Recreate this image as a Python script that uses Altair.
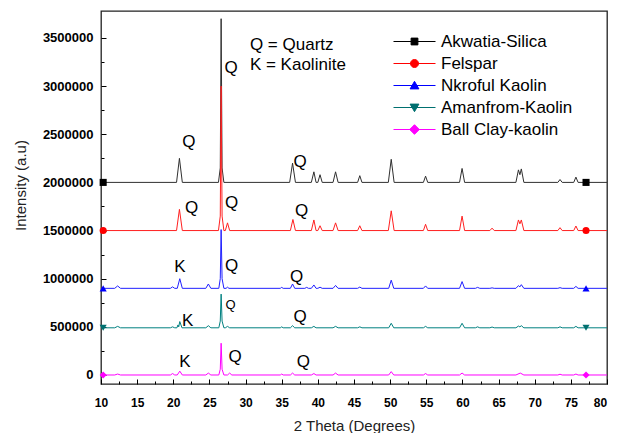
import altair as alt
import pandas as pd

# ---------------- data ----------------
series_names = ["Akwatia-Silica", "Felspar", "Nkroful Kaolin", "Amanfrom-Kaolin", "Ball Clay-kaolin"]
line_colors = ["#303030", "#ff2020", "#2020ff", "#008080", "#ff00ff"]
marker_colors = ["#000000", "#ff0000", "#0000ff", "#007070", "#ff00ff"]
marker_shapes = ["square", "circle", "triangle-up", "triangle-down", "diamond"]
legend_shapes = [
    "M-5.25,0H5.25M-0.85,-0.85H0.85V0.85H-0.85Z",
    "M-5.25,0H5.25M-1,0A1,1 0 1,0 1,0A1,1 0 1,0 -1,0Z",
    "M-5.25,0H5.25M0,-1.05L1.1,0.85H-1.1Z",
    "M-5.25,0H5.25M0,1.05L1.1,-0.85H-1.1Z",
    "M-5.25,0H5.25M0,-1.2L1.2,0L0,1.2L-1.2,0Z",
]
baselines = [2000000, 1500000, 900000, 490000, 0]
marker_x = [10.3, 77.1]

akwatia = [(10, 2000000), (20.45, 2000000), (20.85, 2250000), (21.25, 2000000),
           (26.25, 2000000), (26.5, 2150000), (26.62, 3700000), (26.75, 2150000), (27.0, 2000000),
           (36.1, 2000000), (36.5, 2200000), (36.9, 2000000),
           (39.1, 2000000), (39.45, 2110000), (39.75, 2000000),
           (40.0, 2000000), (40.3, 2080000), (40.6, 2000000),
           (42.1, 2000000), (42.45, 2110000), (42.8, 2000000),
           (45.5, 2000000), (45.8, 2070000), (46.1, 2000000),
           (49.75, 2000000), (50.15, 2240000), (50.55, 2000000),
           (54.6, 2000000), (54.9, 2065000), (55.2, 2000000),
           (59.6, 2000000), (59.95, 2145000), (60.3, 2000000),
           (67.4, 2000000), (67.75, 2130000), (67.95, 2080000), (68.15, 2140000), (68.5, 2000000),
           (73.2, 2000000), (73.5, 2030000), (73.8, 2000000),
           (75.4, 2000000), (75.7, 2055000), (76.0, 2000000), (80, 2000000)]

felspar = [(10, 1500000), (20.45, 1500000), (20.85, 1720000), (21.25, 1500000),
           (26.25, 1500000), (26.5, 1650000), (26.62, 3000000), (26.75, 1650000), (27.0, 1500000),
           (27.2, 1500000), (27.5, 1580000), (27.8, 1500000),
           (36.2, 1500000), (36.55, 1615000), (36.9, 1500000),
           (39.1, 1500000), (39.45, 1610000), (39.75, 1500000),
           (40.0, 1500000), (40.3, 1550000), (40.6, 1500000),
           (42.1, 1500000), (42.45, 1580000), (42.8, 1500000),
           (45.5, 1500000), (45.8, 1550000), (46.1, 1500000),
           (49.75, 1500000), (50.15, 1705000), (50.55, 1500000),
           (54.6, 1500000), (54.9, 1565000), (55.2, 1500000),
           (59.6, 1500000), (59.95, 1650000), (60.3, 1500000),
           (63.8, 1500000), (64.1, 1525000), (64.4, 1500000),
           (67.4, 1500000), (67.75, 1610000), (67.95, 1570000), (68.15, 1610000), (68.5, 1500000),
           (73.2, 1500000), (73.5, 1530000), (73.8, 1500000),
           (75.4, 1500000), (75.7, 1547000), (76.0, 1500000), (80, 1500000)]

nkroful = [(10, 900000), (11.9, 900000), (12.3, 925000), (12.7, 900000),
           (19.6, 900000), (19.9, 915000), (20.2, 900000),
           (20.55, 900000), (20.9, 1000000), (21.25, 900000),
           (24.5, 900000), (24.85, 945000), (25.2, 900000),
           (26.3, 900000), (26.5, 1000000), (26.62, 1510000), (26.75, 1000000), (27.0, 900000),
           (27.3, 900000), (27.5, 912000), (27.7, 900000),
           (34.8, 900000), (35.0, 910000), (35.2, 900000),
           (36.2, 900000), (36.5, 945000), (36.8, 900000),
           (38.2, 900000), (38.45, 910000), (38.7, 900000),
           (39.1, 900000), (39.45, 935000), (39.75, 900000),
           (40.0, 900000), (40.3, 912000), (40.6, 900000),
           (42.1, 900000), (42.45, 930000), (42.8, 900000),
           (45.5, 900000), (45.8, 913000), (46.1, 900000),
           (49.8, 900000), (50.15, 985000), (50.5, 900000),
           (54.6, 900000), (54.9, 925000), (55.2, 900000),
           (59.6, 900000), (59.95, 970000), (60.3, 900000),
           (61.8, 900000), (62.1, 910000), (62.4, 900000),
           (63.8, 900000), (64.1, 905000), (64.4, 900000),
           (67.4, 900000), (67.75, 928000), (67.95, 915000), (68.15, 938000), (68.5, 900000),
           (73.2, 900000), (73.5, 907000), (73.8, 900000),
           (75.4, 900000), (75.7, 920000), (76.0, 900000), (80, 900000)]

amanfrom = [(10, 490000), (11.9, 490000), (12.3, 505000), (12.7, 490000),
            (19.6, 490000), (19.9, 500000), (20.2, 490000),
            (20.5, 490000), (20.65, 520000), (20.75, 500000), (20.9, 555000), (21.2, 490000),
            (24.5, 490000), (24.85, 512000), (25.2, 490000),
            (26.3, 490000), (26.5, 560000), (26.62, 840000), (26.75, 560000), (27.0, 490000),
            (27.2, 490000), (27.5, 505000), (27.8, 490000),
            (34.8, 490000), (35.0, 500000), (35.2, 490000),
            (36.2, 490000), (36.5, 512000), (36.8, 490000),
            (39.1, 490000), (39.45, 505000), (39.75, 490000),
            (42.1, 490000), (42.45, 505000), (42.8, 490000),
            (45.5, 490000), (45.8, 500000), (46.1, 490000),
            (49.8, 490000), (50.15, 537000), (50.5, 490000),
            (54.6, 490000), (54.9, 505000), (55.2, 490000),
            (59.6, 490000), (59.95, 537000), (60.3, 490000),
            (61.8, 490000), (62.1, 500000), (62.4, 490000),
            (63.8, 490000), (64.1, 498000), (64.4, 490000),
            (67.4, 490000), (67.75, 508000), (67.95, 500000), (68.15, 512000), (68.5, 490000),
            (73.2, 490000), (73.5, 500000), (73.8, 490000),
            (75.4, 490000), (75.7, 505000), (76.0, 490000), (80, 490000)]

ballclay = [(10, 0), (11.9, 0), (12.3, 10000), (12.7, 0),
            (19.6, 0), (19.9, 15000), (20.2, 0),
            (20.55, 0), (20.9, 40000), (21.25, 0),
            (24.5, 0), (24.85, 20000), (25.2, 0),
            (26.3, 0), (26.5, 60000), (26.62, 330000), (26.75, 60000), (27.0, 0),
            (27.5, 0), (27.8, 20000), (28.1, 0),
            (34.8, 0), (35.0, 10000), (35.2, 0),
            (36.2, 0), (36.5, 20000), (36.8, 0),
            (39.1, 0), (39.45, 15000), (39.75, 0),
            (42.1, 0), (42.45, 20000), (42.8, 0),
            (49.8, 0), (50.15, 35000), (50.5, 0),
            (54.6, 0), (54.9, 15000), (55.2, 0),
            (59.6, 0), (59.95, 20000), (60.3, 0),
            (67.4, 0), (68.0, 20000), (68.5, 0),
            (73.2, 0), (73.5, 8000), (73.8, 0),
            (75.4, 0), (75.7, 10000), (76.0, 0), (80, 0)]

ann_text = ["Q", "Q", "Q", "Q", "Q", "Q", "K", "Q", "Q", "K", "Q", "K", "Q", "Q"]
ann_x = [22.17, 28.0, 37.53, 22.55, 28.08, 37.76, 20.93, 28.08, 37.07, 22.0, 37.53, 21.62, 28.54, 37.99]
ann_y = [2420000, 3188000, 2212000, 1731000, 1783000, 1706000, 1118000, 1132000, 1021000,
         564000, 605000, 138000, 190000, 138000]
small_text = ["Q"]
small_x = [27.94]
small_y = [727000]
key_text = ["Q = Quartz", "K = Kaolinite"]
key_x = [30.6, 30.6]
key_y = [3427000, 3219000]

x_ticks = [10 + 2.5 * i for i in range(29)]
y_ticks = [250000 * i for i in range(15)]

# ---------------- tables ----------------
all_series = [akwatia, felspar, nkroful, amanfrom, ballclay]
rows = []
for name, pts in zip(series_names, all_series):
    for x, y in pts:
        rows.append({"series": name, "theta": x, "intensity": y})
lines_df = pd.DataFrame(rows)

mrows = []
for name, b in zip(series_names, baselines):
    for mx in marker_x:
        mrows.append({"series": name, "theta": mx, "intensity": b})
markers_df = pd.DataFrame(mrows)

ann_df = pd.DataFrame({"t": ann_text, "theta": ann_x, "intensity": ann_y})
small_df = pd.DataFrame({"t": small_text, "theta": small_x, "intensity": small_y})
key_df = pd.DataFrame({"t": key_text, "theta": key_x, "intensity": key_y})

FONT = "Liberation Sans"

x_enc = alt.X("theta:Q", scale=alt.Scale(domain=[10, 80], nice=False, zero=False),
              axis=alt.Axis(values=x_ticks, format="g",
                            labelExpr="datum.value % 5 === 0 ? datum.label : ''",
                            labelOffset={"condition": {"test": "datum.value === 80", "value": -7},
                                         "value": 0},
                            tickSize=alt.ExprRef(expr="-5"),
                            tickDash={"condition": {"test": "datum.value % 5 !== 0", "value": [3, 20]},
                                      "value": [20, 0]},
                            tickColor="black", tickWidth=1, domain=False, grid=False,
                            labelFont=FONT, labelFontWeight="bold", labelFontSize=12,
                            labelColor="black", labelPadding=18, labelFlush=False,
                            labelOverlap=False, labelBound=False,
                            title="2 Theta (Degrees)", titleFont=FONT, titleFontSize=15,
                            titleFontWeight="normal", titleColor="#222", titleY=41,
                            titleBaseline="middle"))
y_enc = alt.Y("intensity:Q", scale=alt.Scale(domain=[-93500, 3780000], nice=False, zero=False),
              axis=alt.Axis(values=y_ticks, format="d",
                            labelExpr="datum.value % 500000 === 0 ? datum.label : ''",
                            tickSize=alt.ExprRef(expr="-5"),
                            tickDash={"condition": {"test": "datum.value % 500000 !== 0", "value": [3, 20]},
                                      "value": [20, 0]},
                            tickColor="black", tickWidth=1, domain=False, grid=False,
                            labelFont=FONT, labelFontWeight="bold", labelFontSize=13,
                            labelColor="black", labelPadding=13, labelFlush=False,
                            labelOverlap=False, labelBound=False,
                            title="Intensity (a.u)", titleFont=FONT, titleFontSize=15,
                            titleFontWeight="normal", titleColor="#222", titleX=-81, titleY=174,
                            titleAngle=270, titleAlign="center", titleBaseline="middle"))

lines = alt.Chart(lines_df).mark_line(strokeWidth=1, clip=True).encode(
    x=x_enc, y=y_enc,
    color=alt.Color("series:N", scale=alt.Scale(domain=series_names, range=line_colors), legend=None),
    order=alt.Order("theta:Q"),
)

markers = alt.Chart(markers_df).mark_point(filled=True, size=50, opacity=1).encode(
    x=x_enc, y=y_enc,
    fill=alt.Fill("series:N", scale=alt.Scale(domain=series_names, range=marker_colors), legend=None),
    shape=alt.Shape("series:N", scale=alt.Scale(domain=series_names, range=marker_shapes), legend=None),
)

leg = alt.Legend(title=None, orient="none", legendX=305, legendY=22, symbolSize=64,
                 symbolStrokeWidth=1, symbolOpacity=1, symbolFillColor="black",
                 symbolStrokeColor="black", labelFont=FONT, labelFontSize=17, labelColor="black",
                 labelOffset=18, rowPadding=4, padding=0, labelLimit=300)

legend_layer = alt.Chart(markers_df).mark_point(filled=True, size=50, opacity=0).encode(
    x=x_enc, y=y_enc,
    fill=alt.Fill("series:N", scale=alt.Scale(domain=series_names, range=marker_colors), legend=leg),
    stroke=alt.Stroke("series:N", scale=alt.Scale(domain=series_names, range=marker_colors), legend=leg),
    shape=alt.Shape("series:N", scale=alt.Scale(domain=series_names, range=legend_shapes), legend=leg),
)

ann = alt.Chart(ann_df).mark_text(font=FONT, fontSize=17, color="black", align="center",
                                  baseline="middle").encode(x=x_enc, y=y_enc, text="t:N")
small = alt.Chart(small_df).mark_text(font=FONT, fontSize=13, color="black", align="center",
                                      baseline="middle").encode(x=x_enc, y=y_enc, text="t:N")
key = alt.Chart(key_df).mark_text(font=FONT, fontSize=17, color="black", align="left",
                                  baseline="middle").encode(x=x_enc, y=y_enc, text="t:N")

chart = alt.layer(lines, markers, legend_layer, ann, small, key).resolve_scale(
    fill="independent", stroke="independent", shape="independent"
).properties(
    width=506, height=373,
    autosize=alt.AutoSizeParams(type="none"),
    padding={"left": 93, "top": 3, "right": 2, "bottom": 49},
    background="white",
).configure_view(stroke="#222", strokeWidth=1.3)

chart.save("out.html", embed_options={"renderer": "svg", "actions": False})
